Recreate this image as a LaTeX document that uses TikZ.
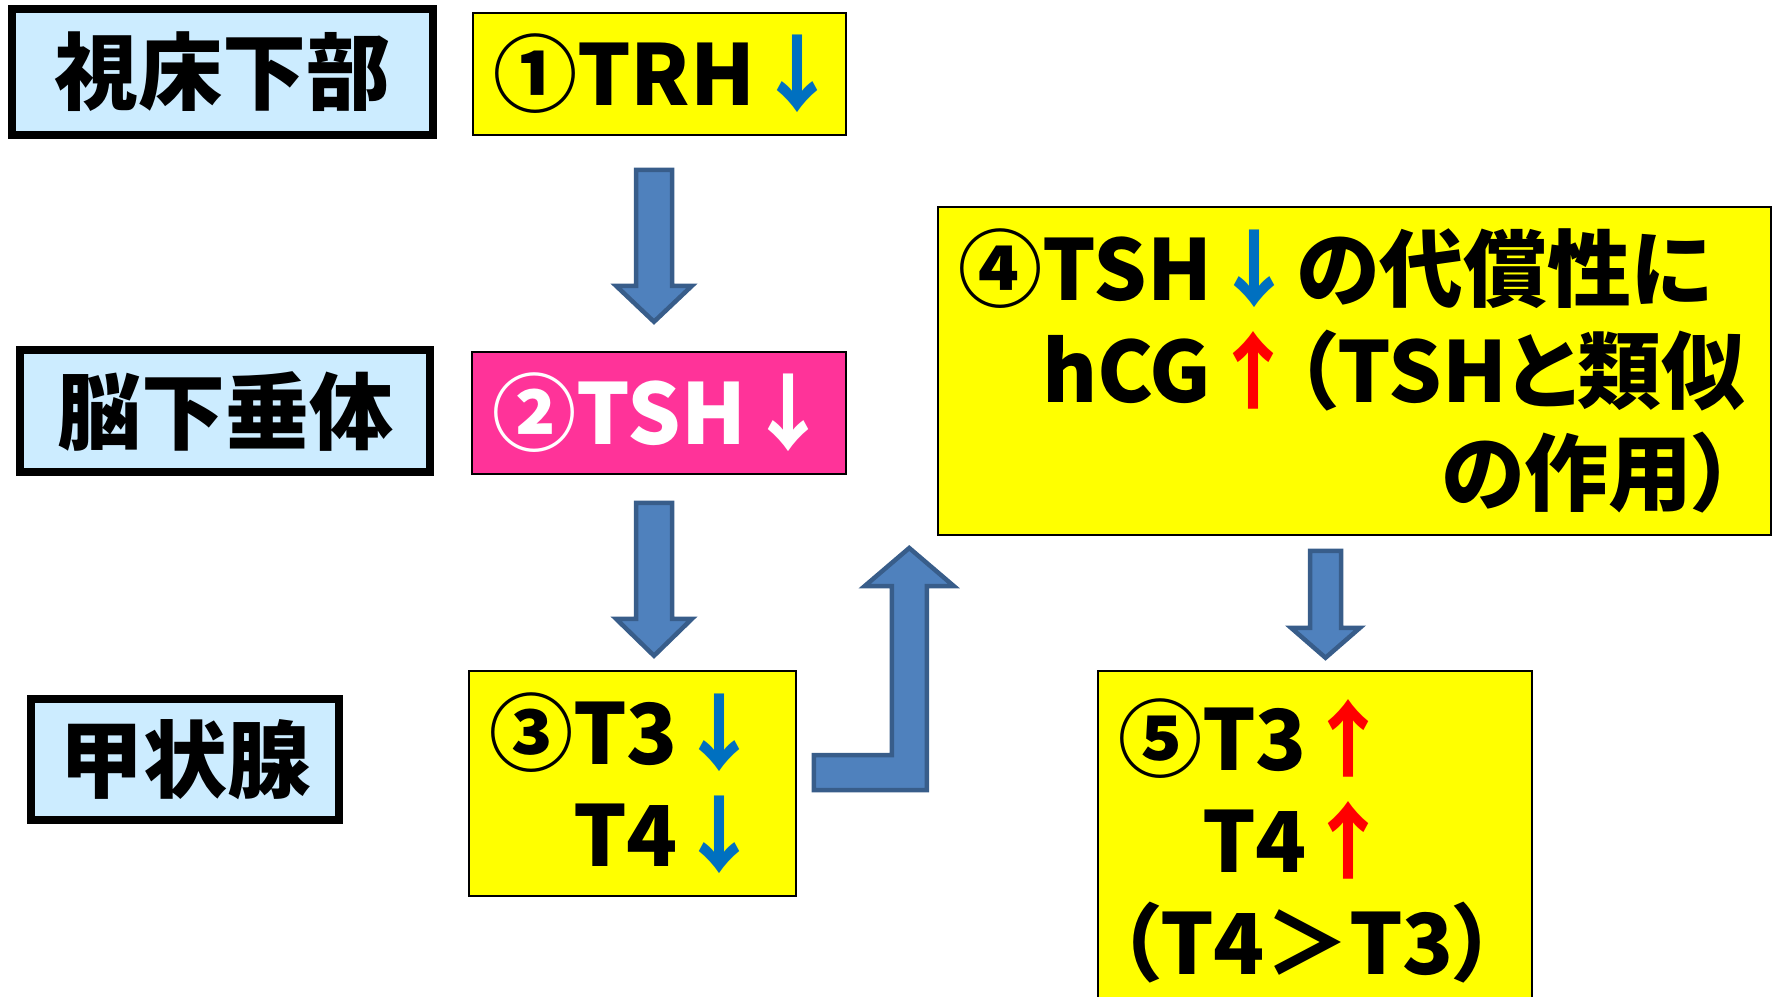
\documentclass[tikz,border=0pt]{standalone}
\usepackage{fontspec}
\setmainfont{Noto Sans CJK JP}[RawFeature=+palt]
\usetikzlibrary{calc}
\definecolor{organblue}{HTML}{CCECFF}
\definecolor{markyellow}{HTML}{FFFF00}
\definecolor{tshpink}{HTML}{FF3399}
\definecolor{arrowfill}{HTML}{4F81BD}
\definecolor{arrowline}{HTML}{385D8A}
\definecolor{downblue}{HTML}{0070C0}
\definecolor{upred}{HTML}{FF0000}
\newcommand{\dnarrow}{{\color{downblue}↓}}
\newcommand{\uparr}{{\color{upred}↑}}
\begin{document}
\begin{tikzpicture}[x=1pt,y=-1pt,
	every node/.style={font=\fontsize{84}{102}\selectfont\bfseries},
	organ/.style={draw=black,line width=7.5pt,fill=organblue,inner sep=0pt},
	hormone/.style={draw=black,line width=1.5pt,fill=markyellow,align=left,inner xsep=20pt,inner ysep=0pt},
	blockarrow/.style={draw=arrowline,fill=arrowfill,line width=4.5pt,line join=miter}]
	\useasboundingbox (0,0) rectangle (1777,996);
	\clip (0,0) rectangle (1777,996);
	% organs
	\node [organ,minimum width=421pt,minimum height=126pt] (hypo) at (222.5,72) {視床下部};
	\node [organ,minimum width=410pt,minimum height=122pt] (pit) at (225,411) {脳下垂体};
	\node [organ,minimum width=308pt,minimum height=121pt] (thy) at (185,759.5) {甲状腺};
	% hormones
	\node [hormone,text width=333pt,minimum height=122pt] (trh) at (659.5,74) {①TRH\dnarrow};
	\node [hormone,fill=tshpink,text=white,text width=334pt,minimum height=122pt] (tsh) at (659,413) {②TSH↓};
	\node [hormone,text width=287pt,minimum height=225pt] (t34) at (632.5,783.5) {③T3\dnarrow\\
	  \hspace*{1em}T4\dnarrow};
	\node [hormone,text width=793pt,minimum height=328pt] (comp) at (1354.5,371) {④TSH\dnarrow の代償性に\\
	  \hspace*{1em}hCG\uparr（TSHと類似\\
	  \hspace*{484pt}の作用）};
	\node [hormone,text width=394pt,minimum height=339pt] (high) at (1315,840.5) {⑤T3\uparr\\
	  \hspace*{1em}T4\uparr\\
	  （T4＞T3）};
	% block arrows
	\draw [blockarrow] ($(trh.south)+(-23.5,34)$) -- ++(36,0) -- ++(0,116) -- ++(20,0)
	  -- ++(-38,36) -- ++(-38,-36) -- ++(20,0) -- cycle;
	\draw [blockarrow] ($(tsh.south)+(-23,28)$) -- ++(36,0) -- ++(0,116) -- ++(20,0)
	  -- ++(-38,37) -- ++(-38,-37) -- ++(20,0) -- cycle;
	\draw [blockarrow] ($(t34.east)+(17,6.5)$) -- ++(113,0) -- ++(0,-204) -- ++(27,0)
	  -- ++(-44.5,-38) -- ++(-44.5,38) -- ++(27,0) -- ++(0,169) -- ++(-78,0) -- cycle;
	\draw [blockarrow] ($(comp.south)+(-44.5,15)$) -- ++(31,0) -- ++(0,77) -- ++(19,0)
	  -- ++(-34.5,30) -- ++(-34.5,-30) -- ++(19,0) -- cycle;
\end{tikzpicture}
\end{document}
